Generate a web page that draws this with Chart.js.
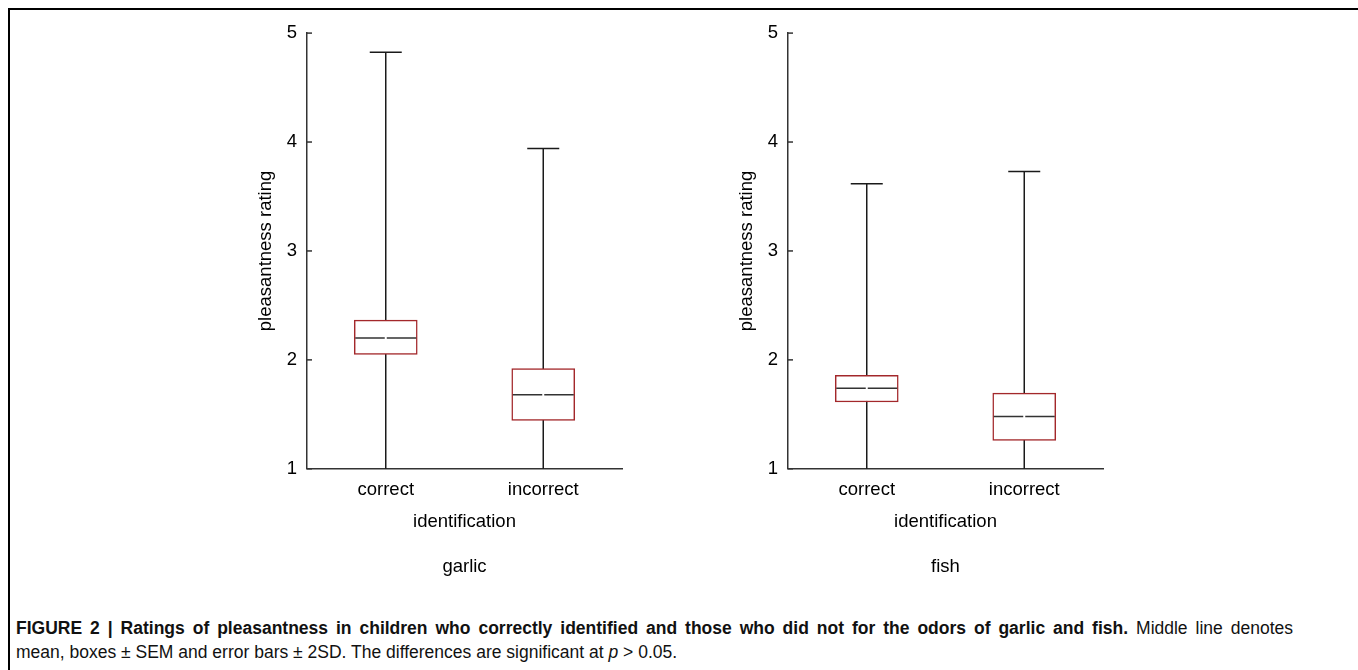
<!DOCTYPE html>
<html lang="en">
<head>
  <meta charset="UTF-8">
  <title>Figure 2 - pleasantness ratings</title>
  <script src="https://cdn.jsdelivr.net/npm/chart.js"></script>
  <style>
    body {
      margin: 0;
      background: #fff;
      width: 1358px;
      height: 670px;
      overflow: hidden;
      position: relative;
      font-family: 'Liberation Sans', Arial, sans-serif;
    }
    /* frame round the figure, its bottom edge is below the window */
    #frame {
      position: absolute;
      left: 8px;
      top: 8px;
      width: 1360px;
      height: 720px;
      border: 2px solid #000;
      box-sizing: border-box;
    }
    .panel {
      position: absolute;
      top: 12px;
      width: 400px;
      height: 583px;
    }
    #caption {
      position: absolute;
      left: 16px;
      top: 616px;
      width: 1277px;
      font-size: 17.5px;
      line-height: 24px;
      color: #111;
    }
    #caption .l1 { text-align: justify; text-align-last: justify; white-space: nowrap; }
    #caption .l2 { white-space: nowrap; }
  </style>
</head>
<body>
  <div id="frame"></div>
  <div class="panel" style="left:240px"><canvas id="garlicChart"></canvas></div>
  <div class="panel" style="left:721px"><canvas id="fishChart"></canvas></div>
  <div id="caption">
    <div class="l1"><b>FIGURE 2 | Ratings of pleasantness in children who correctly identified and those who did not for the odors of garlic and fish.</b> Middle line denotes</div>
    <div class="l2">mean, boxes &plusmn; SEM and error bars &plusmn; 2SD. The differences are significant at <i>p</i> &gt; 0.05.</div>
  </div>

  <script>
    // categories and tick values
    const groups = ['correct', 'incorrect'];
    const yTicks = [1, 2, 3, 4, 5];

    // garlic: mean, box (+/- SEM) and whiskers (+/- 2SD)
    const garlicMean = [2.20, 1.68];
    const garlicBoxLow = [2.05, 1.445];
    const garlicBoxHigh = [2.365, 1.92];
    const garlicWhiskerLow = [-0.42, -0.57];
    const garlicWhiskerHigh = [4.825, 3.94];

    // fish
    const fishMean = [1.74, 1.48];
    const fishBoxLow = [1.613, 1.26];
    const fishBoxHigh = [1.858, 1.695];
    const fishWhiskerLow = [-0.14, -0.77];
    const fishWhiskerHigh = [3.618, 3.729];

    const FONT = { family: "'Liberation Sans', Arial, sans-serif", size: 18.5, weight: 'normal' };
    const BOX_RED = '#a3282b';

    // draws whiskers, mean lines and inward y ticks for one panel
    function boxParts(means, whiskerLow, whiskerHigh) {
      return {
        id: 'boxParts',
        beforeDatasetsDraw(chart) {
          const { ctx, chartArea: a, scales: { x, y } } = chart;
          ctx.save();
          ctx.beginPath();
          ctx.rect(a.left, a.top, a.width, a.height);
          ctx.clip();
          ctx.strokeStyle = '#1a1a1a';
          ctx.lineWidth = 1.5;
          whiskerHigh.forEach((hi, i) => {
            const cx = x.getPixelForValue(i);
            const yHi = y.getPixelForValue(hi);
            const yLo = y.getPixelForValue(whiskerLow[i]);
            ctx.beginPath();
            ctx.moveTo(cx, yLo);
            ctx.lineTo(cx, yHi);
            ctx.moveTo(cx - 16, yHi);
            ctx.lineTo(cx + 16, yHi);
            ctx.stroke();
          });
          ctx.restore();
        },
        afterDatasetsDraw(chart) {
          const { ctx, scales: { x, y } } = chart;
          const bars = chart.getDatasetMeta(0).data;
          ctx.save();
          ctx.strokeStyle = '#333';
          ctx.lineWidth = 1.5;
          means.forEach((m, i) => {
            const cx = x.getPixelForValue(i);
            const half = bars[i].width / 2 - 1;
            const ym = y.getPixelForValue(m);
            ctx.beginPath();
            ctx.moveTo(cx - half, ym);
            ctx.lineTo(cx - 1, ym);
            ctx.moveTo(cx + 1, ym);
            ctx.lineTo(cx + half, ym);
            ctx.stroke();
          });
          ctx.restore();
        },
        afterDraw(chart) {
          const { ctx, scales: { y } } = chart;
          ctx.save();
          ctx.strokeStyle = '#333';
          ctx.lineWidth = 1.5;
          yTicks.forEach(v => {
            const py = y.getPixelForValue(v);
            ctx.beginPath();
            ctx.moveTo(y.right, py);
            ctx.lineTo(y.right + 5, py);
            ctx.stroke();
          });
          ctx.restore();
        }
      };
    }

    function makePanel(canvasId, title, means, boxLow, boxHigh, whiskerLow, whiskerHigh) {
      new Chart(document.getElementById(canvasId), {
        type: 'bar',
        data: {
          labels: groups,
          datasets: [{
            data: boxLow.map((lo, i) => [lo, boxHigh[i]]),
            backgroundColor: '#fff',
            borderColor: BOX_RED,
            borderWidth: 1.5,
            borderSkipped: false,
            barThickness: 63
          }]
        },
        options: {
          responsive: true,
          maintainAspectRatio: false,
          animation: false,
          layout: { padding: { top: 10, right: 18, bottom: 0, left: 0 } },
          plugins: {
            legend: { display: false },
            tooltip: { enabled: false },
            title: {
              display: true,
              text: title,
              position: 'bottom',
              fullSize: false,
              color: '#000',
              font: FONT,
              padding: { top: 23, bottom: 17 }
            }
          },
          scales: {
            x: {
              afterFit: s => { s.height = 64; },
              grid: { display: false, drawTicks: false },
              border: { display: true, color: '#333', width: 1.5 },
              ticks: { color: '#000', font: FONT, padding: 10 },
              title: { display: true, text: 'identification', color: '#000', font: FONT, padding: { top: 0, bottom: 0 } }
            },
            y: {
              min: 1,
              max: 5,
              afterFit: s => { s.width = 67; },
              afterBuildTicks: s => { s.ticks = yTicks.map(v => ({ value: v })); },
              grid: { display: false, drawTicks: false },
              border: { display: true, color: '#333', width: 1.5 },
              ticks: { color: '#000', font: FONT, padding: 10 },
              title: { display: true, text: 'pleasantness rating', color: '#000', font: FONT, padding: { top: 15, bottom: 0 } }
            }
          }
        },
        plugins: [boxParts(means, whiskerLow, whiskerHigh)]
      });
    }

    makePanel('garlicChart', 'garlic', garlicMean, garlicBoxLow, garlicBoxHigh, garlicWhiskerLow, garlicWhiskerHigh);
    makePanel('fishChart', 'fish', fishMean, fishBoxLow, fishBoxHigh, fishWhiskerLow, fishWhiskerHigh);
  </script>
</body>
</html>
